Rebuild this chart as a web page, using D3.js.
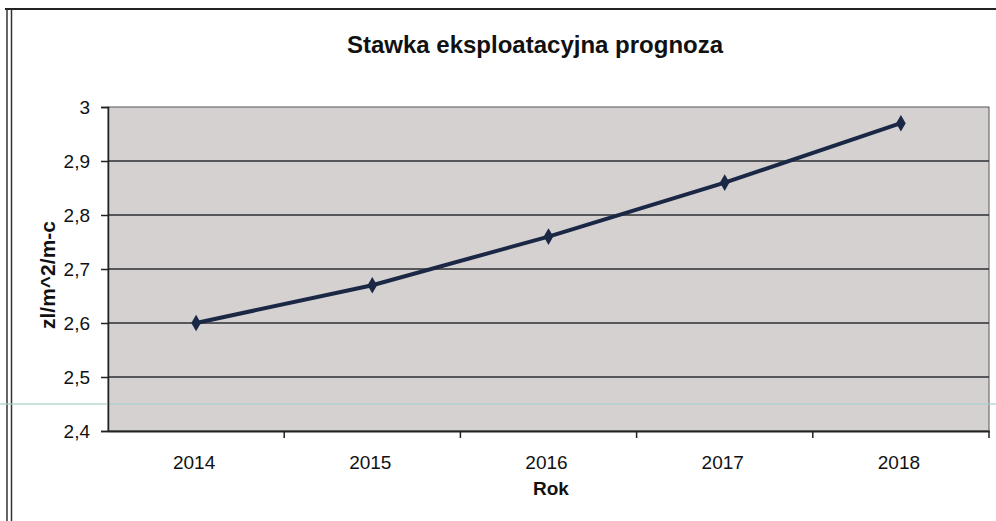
<!DOCTYPE html>
<html>
<head>
<meta charset="utf-8">
<script src="https://cdn.jsdelivr.net/npm/d3@7"></script>
<style>
  body { margin: 0; background: #fff; }
  text { font-family: "Liberation Sans", Arial, sans-serif; fill: #111; }
</style>
</head>
<body>
<svg id="chart"></svg>
<script>
// data
const years = ['2014', '2015', '2016', '2017', '2018'];
const values = [2.60, 2.67, 2.76, 2.86, 2.97];
const yTicks = [2.4, 2.5, 2.6, 2.7, 2.8, 2.9, 3.0];

const W = 996, H = 521;
const svg = d3.select('#chart').attr('width', W).attr('height', H);

// outer frame of the scanned chart
svg.append('line').attr('x1', 5).attr('x2', W).attr('y1', 9).attr('y2', 9)
  .attr('stroke', '#222').attr('stroke-width', 2);
svg.append('line').attr('x1', 7).attr('x2', 7).attr('y1', 9).attr('y2', H)
  .attr('stroke', '#333').attr('stroke-width', 1.5);
svg.append('line').attr('x1', 11.5).attr('x2', 11.5).attr('y1', 9).attr('y2', H)
  .attr('stroke', '#333').attr('stroke-width', 1.5);

const m = { left: 108, right: 989, top: 107, bottom: 431 };

const x = d3.scaleBand().domain(years).range([m.left, m.right]);
const y = d3.scaleLinear().domain([2.4, 3.0]).range([m.bottom, m.top]);

// plot area
svg.append('rect')
  .attr('x', m.left).attr('y', m.top)
  .attr('width', m.right - m.left).attr('height', m.bottom - m.top)
  .attr('fill', '#d5d1d1')
  .attr('stroke', '#555').attr('stroke-width', 1);

// faint scanner streak
svg.append('line').attr('x1', 0).attr('x2', W).attr('y1', 404).attr('y2', 404)
  .attr('stroke', '#a9cfca').attr('stroke-width', 1.5).attr('opacity', 0.8);

// gridlines
svg.append('g')
  .selectAll('line')
  .data(yTicks.slice(1, -1))
  .enter().append('line')
  .attr('x1', m.left).attr('x2', m.right)
  .attr('y1', d => y(d)).attr('y2', d => y(d))
  .attr('stroke', '#2a2e33').attr('stroke-width', 1.5);

// y axis
const yAxis = svg.append('g')
  .attr('transform', `translate(${m.left},0)`)
  .call(d3.axisLeft(y).tickValues(yTicks).tickSize(7)
    .tickFormat(d => d3.format('.1f')(d).replace('.0', '').replace('.', ',')));
yAxis.select('.domain').attr('stroke', '#222').attr('stroke-width', 1.5);
yAxis.selectAll('.tick line').attr('stroke', '#222').attr('stroke-width', 1.5);
yAxis.selectAll('.tick text').attr('font-size', 19).attr('x', -18)
  .style('font-family', '"Liberation Sans", Arial, sans-serif').attr('fill', '#111');

// x axis
const xAxis = svg.append('g')
  .attr('transform', `translate(0,${m.bottom})`)
  .call(d3.axisBottom(x).tickSize(0).tickPadding(25));
xAxis.select('.domain').attr('stroke', '#222').attr('stroke-width', 2);
xAxis.selectAll('.tick text').attr('font-size', 19).attr('dx', -2)
  .style('font-family', '"Liberation Sans", Arial, sans-serif').attr('fill', '#111');

// ticks between categories
svg.append('g')
  .selectAll('line')
  .data(years.slice(1).concat(['end']))
  .enter().append('line')
  .attr('x1', (d, i) => i < years.length - 1 ? x(d) : m.right)
  .attr('x2', (d, i) => i < years.length - 1 ? x(d) : m.right)
  .attr('y1', m.bottom).attr('y2', m.bottom + 7)
  .attr('stroke', '#222').attr('stroke-width', 1.5);

// series line
const pts = years.map((d, i) => [x(d) + x.bandwidth() / 2, y(values[i])]);
svg.append('path')
  .attr('d', d3.line()(pts))
  .attr('fill', 'none')
  .attr('stroke', '#1b2845')
  .attr('stroke-width', 4);

svg.append('g')
  .selectAll('path')
  .data(pts)
  .enter().append('path')
  .attr('d', d3.symbol(d3.symbolDiamond, 80))
  .attr('transform', d => `translate(${d[0]},${d[1]})`)
  .attr('fill', '#1b2845');

// titles
svg.append('text')
  .attr('x', 535).attr('y', 53)
  .attr('text-anchor', 'middle')
  .attr('font-size', 24).attr('font-weight', 'bold')
  .text('Stawka eksploatacyjna prognoza');

svg.append('text')
  .attr('transform', 'translate(55,275) rotate(-90)')
  .attr('text-anchor', 'middle')
  .attr('font-size', 21).attr('font-weight', 'bold')
  .text('zl/m^2/m-c');

svg.append('text')
  .attr('x', 551).attr('y', 495)
  .attr('text-anchor', 'middle')
  .attr('font-size', 19).attr('font-weight', 'bold')
  .text('Rok');
</script>
</body>
</html>
